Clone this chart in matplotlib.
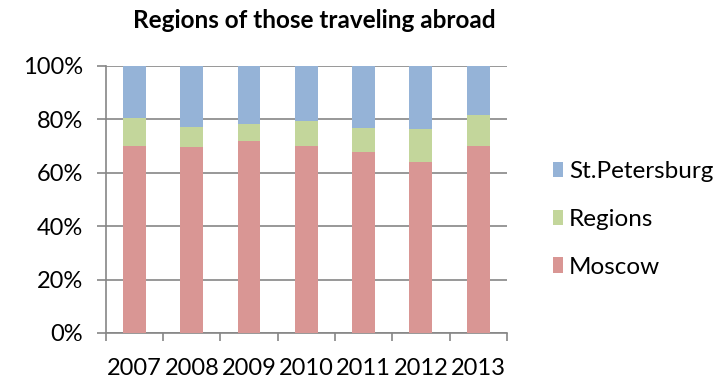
import numpy as np
import matplotlib.pyplot as plt

years = ['2007', '2008', '2009', '2010', '2011', '2012', '2013']
moscow = [70.1, 69.8, 72.0, 70.1, 67.6, 64.1, 70.1]
regions = [10.3, 7.4, 6.3, 9.2, 9.2, 12.2, 11.5]
spb = [19.6, 22.8, 21.7, 20.7, 23.2, 23.7, 18.4]

plt.rcParams['font.family'] = ['Lato', 'DejaVu Sans']

fig = plt.figure(figsize=(7.25, 3.81), dpi=100)
ax = fig.add_axes([0.146, 0.126, 0.553, 0.701])

x = np.arange(len(years))
w = 0.4
b1 = ax.bar(x, moscow, w, color='#D99694', zorder=3, label='Moscow')
b2 = ax.bar(x, regions, w, bottom=moscow, color='#C3D69B', zorder=3, label='Regions')
bottom2 = np.array(moscow) + np.array(regions)
b3 = ax.bar(x, spb, w, bottom=bottom2, color='#95B3D7', zorder=3, label='St.Petersburg')

ax.set_xlim(-0.5, len(years) - 0.5)
ax.set_ylim(0, 100)
ax.set_yticks(np.arange(0, 101, 20))
ax.set_yticklabels([f'{v}%' for v in range(0, 101, 20)])
ax.set_xticks(x)
ax.set_xticklabels(years)
ax.set_xticks(np.arange(-0.5, len(years)), minor=True)
ax.tick_params(axis='x', which='major', length=0, labelsize=17, pad=18)
ax.tick_params(axis='x', which='minor', length=6, color='#868686', width=1.2)
ax.tick_params(axis='y', length=6.5, color='#868686', width=1.2, labelsize=17, pad=10)

ax.grid(axis='y', color='#868686', linewidth=1.2, zorder=0)
for s in ['top', 'right']:
    ax.spines[s].set_visible(False)
for s in ['left', 'bottom']:
    ax.spines[s].set_color('#868686')
    ax.spines[s].set_linewidth(1.2)

fig.text(0.434, 0.945, 'Regions of those traveling abroad', ha='center', va='center',
         fontsize=17.5, fontweight='bold')

ax.legend(handles=[b3, b2, b1], loc='center left', bbox_to_anchor=(1.09, 0.425),
          frameon=False, fontsize=17.5, handlelength=0.42, handleheight=0.6,
          handletextpad=0.25, labelspacing=1.1, borderaxespad=0)

fig.savefig('out.png', dpi=100)
